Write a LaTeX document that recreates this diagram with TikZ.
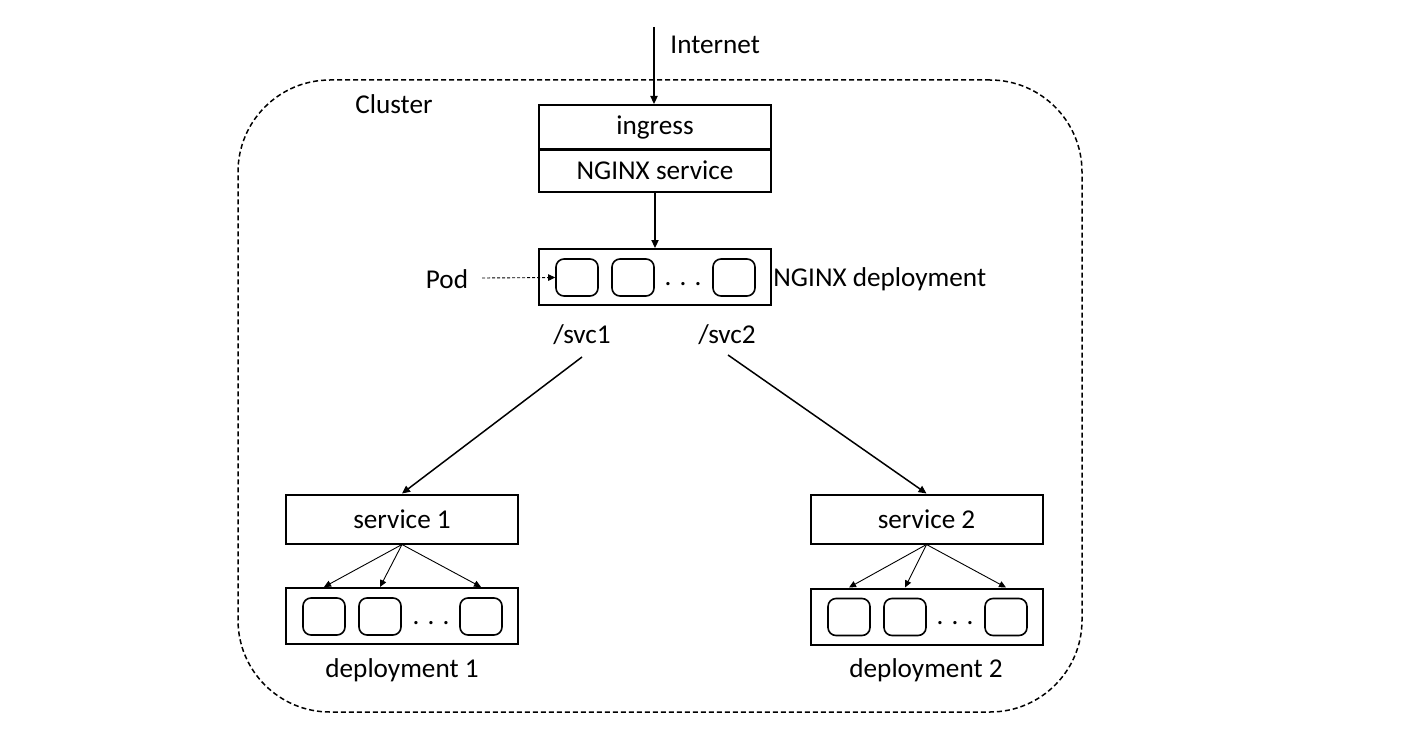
\documentclass[tikz,border=0pt]{standalone}
\usepackage{fontspec}
\setmainfont{Carlito}
\usetikzlibrary{arrows.meta}

\begin{document}
\begin{tikzpicture}[x=0.5pt,y=-0.5pt]
        \tikzset{every node/.style={font=\fontsize{13.6}{16}\selectfont},
            box/.style={draw,line width=1pt,minimum width=116pt,inner sep=0pt},
            pod/.style={draw,line width=0.8pt,rounded corners=4pt,
                minimum width=21pt,minimum height=18.5pt,inner sep=0pt},
            lbl/.style={inner sep=0pt},
            cluster/.style={draw,dash pattern=on 2.5pt off 1.5pt,line width=0.75pt,
                rounded corners=46pt,minimum width=422pt,minimum height=316pt},
            arr/.style={-{Triangle[length=4pt,width=3.6pt]},line width=0.75pt},
            fan/.style={-{Triangle[length=3.5pt,width=3.2pt]},line width=0.45pt}}
        \useasboundingbox (0,0) rectangle (1417,738);
        % cluster
        \node[cluster] (cluster) at (660,396) {};
        \node[lbl] (clusterlbl) at (394,104) {Cluster};
        % ingress + nginx
        \coordinate (net) at (654,27);
        \node[lbl,anchor=west] (netlbl) at (670,45) {Internet};
        \node[box,minimum height=22pt] (ingress) at (655,127) {ingress};
        \node[box,minimum height=21.5pt] (nginxsvc) at (655,170) {NGINX service};
        \node[box,minimum height=28pt] (nginxdep) at (655,277) {};
        \foreach \n/\x in {1/577,2/633,3/734}
            \node[pod] (pa\n) at (\x,277.5) {};
        \node[lbl] (dotsa) at (683,284) {. . .};
        \node[lbl,anchor=west] (nginxlbl) at (773,279) {NGINX deployment};
        \node[lbl] (podlbl) at (447,279) {Pod};
        \coordinate (podtail) at (482,278);
        \node[lbl] (svcA) at (582,335) {/svc1};
        \node[lbl] (svcB) at (727,335) {/svc2};
        \coordinate (svcAtail) at (582,357);
        \coordinate (svcBtail) at (728,355);
        % service 1
        \node[box,minimum height=24.5pt] (svc1) at (402,519) {service 1};
        \node[box,minimum height=28pt] (dep1) at (402,616) {};
        \foreach \n/\x in {1/324,2/380,3/481}
            \node[pod] (pb\n) at (\x,616.5) {};
        \node[lbl] (dotsb) at (431,623) {. . .};
        \node[lbl] (dep1lbl) at (402,670) {deployment 1};
        % service 2
        \node[box,minimum height=24.5pt] (svc2) at (926.5,519) {service 2};
        \node[box,minimum height=28pt] (dep2) at (926.5,616.5) {};
        \foreach \n/\x in {1/849,2/905,3/1006}
            \node[pod] (pc\n) at (\x,617) {};
        \node[lbl] (dotsc) at (955,623.5) {. . .};
        \node[lbl] (dep2lbl) at (926,670) {deployment 2};
        % connectors
        \draw[arr] (net) -- (ingress.north -| net);
        \draw[line width=1pt] (ingress.south west) -- (ingress.south east);
        \draw[arr] (nginxsvc.south) -- (nginxdep.north);
        \draw[-{Triangle[length=3.5pt,width=3.2pt]},dash pattern=on 1.5pt off 1pt,
            line width=0.45pt] (podtail) -- (pa1.west);
        \draw[arr] (svcAtail) -- (svc1.north);
        \draw[arr] (svcBtail) -- (svc2.north);
        \foreach \n in {1,2,3}
        {
            \draw[fan] (svc1.south) -- (dep1.north -| pb\n);
            \draw[fan] (svc2.south) -- (dep2.north -| pc\n);
        }
    \end{tikzpicture}
\end{document}
